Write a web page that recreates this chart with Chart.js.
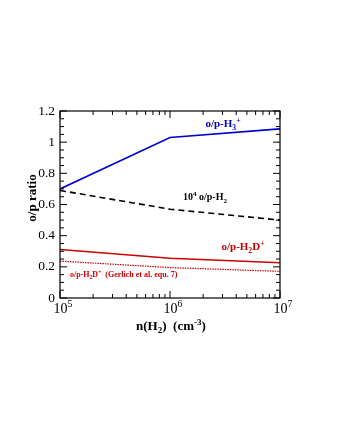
<!DOCTYPE html>
<html>
<head>
<meta charset="utf-8">
<script src="https://cdn.jsdelivr.net/npm/chart.js@4"></script>
<style>
  html, body { margin: 0; padding: 0; background: #fff; }
  #wrap { width: 337px; height: 436px; }
</style>
</head>
<body>
<div id="wrap"><canvas id="ratioChart" width="337" height="436"></canvas></div>
<script>
const densities = [1e5, 1e6, 1e7];
const opH3 = [0.70, 1.03, 1.085];
const opH2 = [0.69, 0.57, 0.50];
const opH2D = [0.312, 0.255, 0.227];
const opH2DGerlich = [0.237, 0.195, 0.171];
const yTicks = [0, 0.2, 0.4, 0.6, 0.8, 1, 1.2];
const yTickLabels = ["0", "0.2", "0.4", "0.6", "0.8", "1", "1.2"];
const xExponents = [5, 6, 7];

const FONT = "'Liberation Serif', 'Times New Roman', serif";

function pts(ys) {
    return densities.map((x, i) => ({ x: x, y: ys[i] }));
}

// draws text with sub/superscript pieces: [text, mode] where mode is "", "sub", "sup"
function richText(ctx, parts, x, y, size, bold, color, align) {
    const w = parts.reduce((s, p) => {
        ctx.font = (bold ? "bold " : "") + (p[1] ? size * 0.7 : size) + "px " + FONT;
        return s + ctx.measureText(p[0]).width;
    }, 0);
    let cx = align === "center" ? x - w / 2 : (align === "right" ? x - w : x);
    ctx.fillStyle = color;
    ctx.textAlign = "left";
    ctx.textBaseline = "alphabetic";
    parts.forEach(p => {
        const sz = p[1] ? size * 0.7 : size;
        ctx.font = (bold ? "bold " : "") + sz + "px " + FONT;
        let dy = 0;
        if (p[1] === "sup") dy = -size * 0.4;
        if (p[1] === "sub") dy = size * 0.25;
        ctx.fillText(p[0], cx, y + dy);
        cx += ctx.measureText(p[0]).width;
    });
}

const framePlugin = {
    id: "frame",
    afterDraw(chart) {
        const ctx = chart.ctx;
        const a = chart.chartArea;
        const xs = chart.scales.x, ys = chart.scales.y;
        ctx.save();
        ctx.strokeStyle = "#000";
        ctx.lineWidth = 1.2;
        ctx.strokeRect(a.left, a.top, a.right - a.left, a.bottom - a.top);

        // y ticks (major every 0.2, minor every 0.05), both sides
        ctx.lineWidth = 1;
        for (let v = 0; v <= 1.2001; v += 0.05) {
            const py = ys.getPixelForValue(v);
            const major = Math.abs(v / 0.2 - Math.round(v / 0.2)) < 1e-6;
            const len = major ? 7 : 4;
            ctx.beginPath();
            ctx.moveTo(a.left, py); ctx.lineTo(a.left + len, py);
            ctx.moveTo(a.right, py); ctx.lineTo(a.right - len, py);
            ctx.stroke();
        }
        // x ticks (log), both sides
        for (let e = 5; e <= 7; e++) {
            for (let m = 1; m <= 9; m++) {
                if (e === 7 && m > 1) break;
                const px = xs.getPixelForValue(m * Math.pow(10, e));
                const len = m === 1 ? 7 : 4;
                ctx.beginPath();
                ctx.moveTo(px, a.bottom); ctx.lineTo(px, a.bottom - len);
                ctx.moveTo(px, a.top); ctx.lineTo(px, a.top + len);
                ctx.stroke();
            }
        }

        // y tick labels
        ctx.fillStyle = "#000";
        ctx.font = "13.5px " + FONT;
        ctx.textAlign = "right";
        ctx.textBaseline = "middle";
        yTicks.forEach((v, i) => {
            ctx.fillText(yTickLabels[i], a.left - 5, ys.getPixelForValue(v));
        });
        // x tick labels 10^n
        xExponents.forEach(e => {
            const px = xs.getPixelForValue(Math.pow(10, e));
            richText(ctx, [["10", ""], [String(e), "sup"]], px + 3, a.bottom + 15, 14, false, "#000", "center");
        });

        // axis titles
        richText(ctx, [["n(H", ""], ["2", "sub"], [")  (cm", ""], ["-3", "sup"], [")", ""]],
            (a.left + a.right) / 2 + 1, a.bottom + 32, 13, true, "#000", "center");
        ctx.save();
        ctx.translate(a.left - 24, 198);
        ctx.rotate(-Math.PI / 2);
        richText(ctx, [["o/p ratio", ""]], 0, 0, 13, true, "#000", "center");
        ctx.restore();

        // curve annotations
        richText(ctx, [["o/p-H", ""], ["3", "sub"], ["+", "sup"]], 223, 127, 11, true, "#0000cc", "center");
        richText(ctx, [["10", ""], ["4", "sup"], [" o/p-H", ""], ["2", "sub"]], 205, 200, 10, true, "#000", "center");
        richText(ctx, [["o/p-H", ""], ["2", "sub"], ["D", ""], ["+", "sup"]], 243, 250, 11, true, "#cc0000", "center");
        richText(ctx, [["o/p-H", ""], ["2", "sub"], ["D", ""], ["+", "sup"], ["  (Gerlich et al. equ. 7)", ""]],
            70, 277, 8, true, "#cc0000", "left");
        ctx.restore();
    }
};

new Chart(document.getElementById("ratioChart").getContext("2d"), {
    type: "line",
    data: {
        datasets: [
            { data: pts(opH3), borderColor: "#0000cc", borderWidth: 1.6 },
            { data: pts(opH2), borderColor: "#000", borderWidth: 1.6, borderDash: [6, 4] },
            { data: pts(opH2D), borderColor: "#cc0000", borderWidth: 1.5 },
            { data: pts(opH2DGerlich), borderColor: "#cc0000", borderWidth: 1.2, borderDash: [1.5, 1] }
        ]
    },
    options: {
        responsive: false,
        animation: false,
        events: [],
        layout: { padding: { left: 60, right: 57, top: 111, bottom: 138 } },
        elements: { point: { radius: 0 }, line: { tension: 0 } },
        plugins: { legend: { display: false }, tooltip: { enabled: false } },
        scales: {
            x: {
                type: "logarithmic", min: 1e5, max: 1e7,
                ticks: { display: false }, grid: { display: false, drawTicks: false }, border: { display: false }
            },
            y: {
                type: "linear", min: 0, max: 1.2,
                ticks: { display: false }, grid: { display: false, drawTicks: false }, border: { display: false }
            }
        }
    },
    plugins: [framePlugin]
});
</script>
</body>
</html>
